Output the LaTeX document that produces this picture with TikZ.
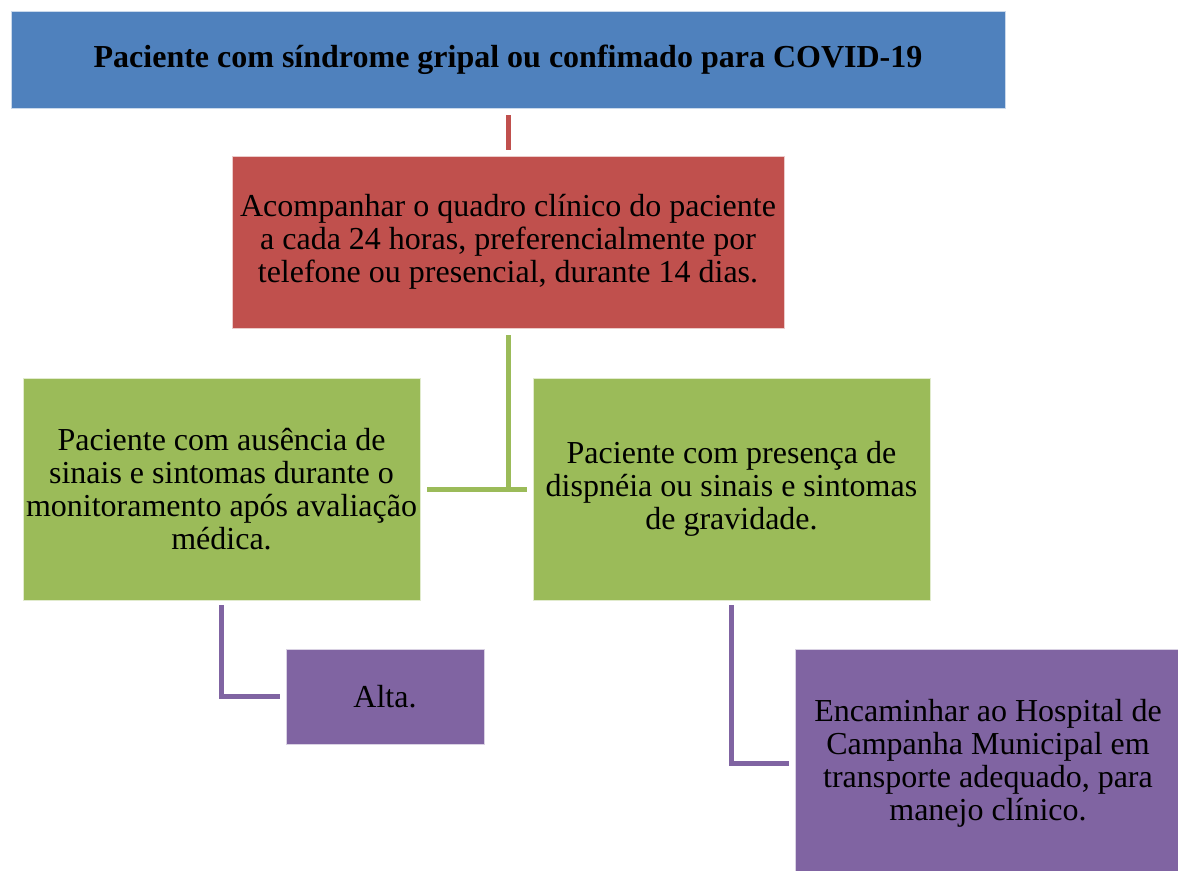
\documentclass[tikz,border=0pt]{standalone}
\usepackage{fontspec}
\setmainfont{Liberation Serif}
\usetikzlibrary{positioning}
\definecolor{boxblue}{RGB}{79,129,189}
\definecolor{boxred}{RGB}{192,80,77}
\definecolor{boxgreen}{RGB}{155,187,89}
\definecolor{boxpurple}{RGB}{128,100,162}

\begin{document}
\begin{tikzpicture}[x=0.75pt, y=-0.75pt,
    stepbox/.style={draw=white!70!#1, line width=0.6pt, fill=#1, align=center,
        inner sep=0pt, font=\fontsize{24}{24.75}\selectfont},
    link/.style={line width=3.75pt, draw=#1}]
    \useasboundingbox (0,0) rectangle (1178,871);
    \clip (0,0) rectangle (1178,871);

    % Top of the flow
    \node[stepbox=boxblue, minimum width=745.5pt, minimum height=72.75pt,
        font=\fontsize{24}{26}\selectfont\bfseries] (top) at (508,59.5)
        {Paciente com síndrome gripal ou confimado para COVID-19};
    \node[stepbox=boxred, minimum width=414pt, minimum height=129pt] (care) at (508,242)
        {Acompanhar o quadro clínico do paciente\\a cada 24 horas, preferencialmente por\\telefone ou presencial, durante 14 dias.};

    % Two outcomes
    \node[stepbox=boxgreen, minimum width=297.75pt, minimum height=166.5pt] (calm) at (221.5,489)
        {Paciente com ausência de\\sinais e sintomas durante o\\monitoramento após avaliação\\médica.};
    \node[stepbox=boxgreen, minimum width=297.75pt, minimum height=166.5pt] (severe) at (731.5,489)
        {Paciente com presença de\\dispnéia ou sinais e sintomas\\de gravidade.};

    % Final steps
    \node[stepbox=boxpurple, minimum width=148.5pt, minimum height=71.25pt] (alta) at (385,696.5)
        {Alta.};
    \node[stepbox=boxpurple, minimum width=289.5pt, minimum height=171pt] (hosp) at (988,763)
        {Encaminhar ao Hospital de\\Campanha Municipal em\\transporte adequado, para\\manejo clínico.};

    % Connectors
    \draw[link=boxred, shorten <=5.25pt, shorten >=4.5pt] (top) -- (care);
    \draw[link=boxgreen, shorten <=5.25pt] (care.south) -- (care.south |- calm.east);
    \draw[link=boxgreen, shorten <=5.25pt, shorten >=4.5pt] (calm.east) -- (severe.west);
    \draw[link=boxpurple, shorten <=3.75pt, shorten >=4.5pt] (calm.south) |- (alta.west);
    \draw[link=boxpurple, shorten <=3.75pt, shorten >=4.5pt] (severe.south) |- (hosp.west);
\end{tikzpicture}
\end{document}
